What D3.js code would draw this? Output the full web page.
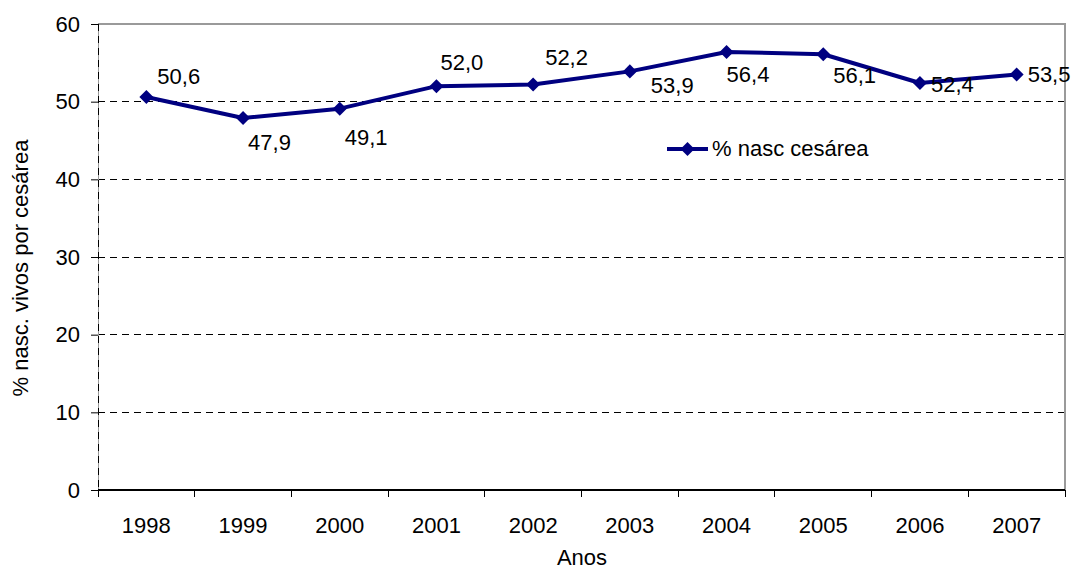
<!DOCTYPE html>
<html>
<head>
<meta charset="utf-8">
<script src="https://cdn.jsdelivr.net/npm/d3@7"></script>
<style>
  html, body { margin: 0; padding: 0; background: #fff; }
  svg { display: block; font-family: "Liberation Sans", Arial, sans-serif; }
</style>
</head>
<body>
<svg id="chart" width="1073" height="571"></svg>
<script>
// Percentage of live births by caesarean section, per year
const years = ["1998", "1999", "2000", "2001", "2002", "2003", "2004", "2005", "2006", "2007"];
const cesarea = [50.6, 47.9, 49.1, 52.0, 52.2, 53.9, 56.4, 56.1, 52.4, 53.5];
const yTicks = [0, 10, 20, 30, 40, 50, 60];
const seriesName = "% nasc cesárea";
const yTitle = "% nasc. vivos por cesárea";
const xTitle = "Anos";

(function () {
  const svg = d3.select("#chart");
  const plotLeft = 98, plotRight = 1065, plotTop = 24, plotBottom = 490;
  const navy = "#000080";
  const fontSize = 22;

  const x = d3.scaleBand().domain(years).range([plotLeft, plotRight]).paddingInner(0).paddingOuter(0);
  const y = d3.scaleLinear().domain([0, 60]).range([plotBottom, plotTop]);
  const cx = d => x(d) + x.bandwidth() / 2;

  // horizontal dashed gridlines
  svg.append("g")
    .selectAll("line")
    .data(yTicks.filter(t => t > 0 && t < 60))
    .join("line")
    .attr("x1", plotLeft).attr("x2", plotRight)
    .attr("y1", d => y(d)).attr("y2", d => y(d))
    .attr("stroke", "#000").attr("stroke-width", 1)
    .attr("stroke-dasharray", "7,5")
    .attr("shape-rendering", "crispEdges");

  // plot frame: top and right in grey
  svg.append("path")
    .attr("d", `M${plotLeft},${plotTop}H${plotRight}V${plotBottom}`)
    .attr("fill", "none").attr("stroke", "#9a9a9a").attr("stroke-width", 1.2)
    .attr("shape-rendering", "crispEdges");

  // y axis
  const yAxis = svg.append("g")
    .attr("transform", `translate(${plotLeft},0)`)
    .call(d3.axisLeft(y).tickValues(yTicks).tickSize(7).tickPadding(11).tickFormat(d3.format("d")));
  yAxis.select(".domain").remove();
  yAxis.selectAll(".tick line").attr("stroke", "#000");
  yAxis.selectAll(".tick text")
    .attr("font-size", fontSize).attr("fill", "#000")
    .attr("font-family", "Liberation Sans, Arial, sans-serif");
  svg.append("line")
    .attr("x1", plotLeft).attr("x2", plotLeft).attr("y1", plotTop).attr("y2", plotBottom)
    .attr("stroke", "#9a9a9a").attr("stroke-width", 1)
    .attr("shape-rendering", "crispEdges");
  svg.append("line")
    .attr("x1", plotLeft).attr("x2", plotLeft).attr("y1", plotTop).attr("y2", plotBottom)
    .attr("stroke", "#000").attr("stroke-width", 1)
    .attr("stroke-dasharray", "7,5")
    .attr("shape-rendering", "crispEdges");

  // x axis with ticks on band boundaries
  const xAxisG = svg.append("g").attr("transform", `translate(0,${plotBottom})`);
  xAxisG.append("line")
    .attr("x1", plotLeft).attr("x2", plotRight)
    .attr("stroke", "#000").attr("stroke-width", 1.2)
    .attr("shape-rendering", "crispEdges");
  const boundaries = years.map(d => x(d)).concat([plotRight]);
  xAxisG.selectAll("line.tk")
    .data(boundaries)
    .join("line").attr("class", "tk")
    .attr("x1", d => d).attr("x2", d => d)
    .attr("y1", 0).attr("y2", 7)
    .attr("stroke", "#000").attr("stroke-width", 1)
    .attr("shape-rendering", "crispEdges");
  xAxisG.selectAll("text")
    .data(years)
    .join("text")
    .attr("x", d => cx(d)).attr("y", 43)
    .attr("text-anchor", "middle")
    .attr("font-size", fontSize).attr("fill", "#000")
    .text(d => d);

  // axis titles
  svg.append("text")
    .attr("x", 582).attr("y", 565)
    .attr("text-anchor", "middle").attr("font-size", fontSize).attr("fill", "#000")
    .text(xTitle);
  svg.append("text")
    .attr("transform", "translate(28,268) rotate(-90)")
    .attr("text-anchor", "middle").attr("font-size", fontSize).attr("fill", "#000")
    .text(yTitle);

  // series line
  const pts = years.map((d, i) => [cx(d), y(cesarea[i])]);
  svg.append("path")
    .attr("d", d3.line()(pts))
    .attr("fill", "none").attr("stroke", navy).attr("stroke-width", 4)
    .attr("stroke-linejoin", "round");

  const diamond = d3.symbol().type(d3.symbolDiamond2).size(125);
  svg.append("g")
    .selectAll("path")
    .data(pts)
    .join("path")
    .attr("transform", d => `translate(${d[0]},${d[1]})`)
    .attr("d", diamond)
    .attr("fill", navy);

  // value labels, each nudged around its point
  const labelOffsets = [[11, -13], [5, 32], [5, 36], [4, -16], [12, -20], [21, 22], [0, 30], [10, 29], [11, 9], [11, 8]];
  svg.append("g")
    .selectAll("text")
    .data(pts)
    .join("text")
    .attr("x", (d, i) => d[0] + labelOffsets[i][0])
    .attr("y", (d, i) => d[1] + labelOffsets[i][1])
    .attr("font-size", fontSize).attr("fill", "#000")
    .text((d, i) => d3.format(".1f")(cesarea[i]).replace(".", ","));

  // legend
  const lg = svg.append("g").attr("transform", "translate(667,149)");
  lg.append("line").attr("x1", 0).attr("x2", 41).attr("y1", 0).attr("y2", 0)
    .attr("stroke", navy).attr("stroke-width", 4);
  lg.append("path").attr("transform", "translate(20.5,0)").attr("d", diamond).attr("fill", navy);
  lg.append("text").attr("x", 45).attr("y", 7)
    .attr("font-size", fontSize).attr("fill", "#000").text(seriesName);
})();
</script>
</body>
</html>
